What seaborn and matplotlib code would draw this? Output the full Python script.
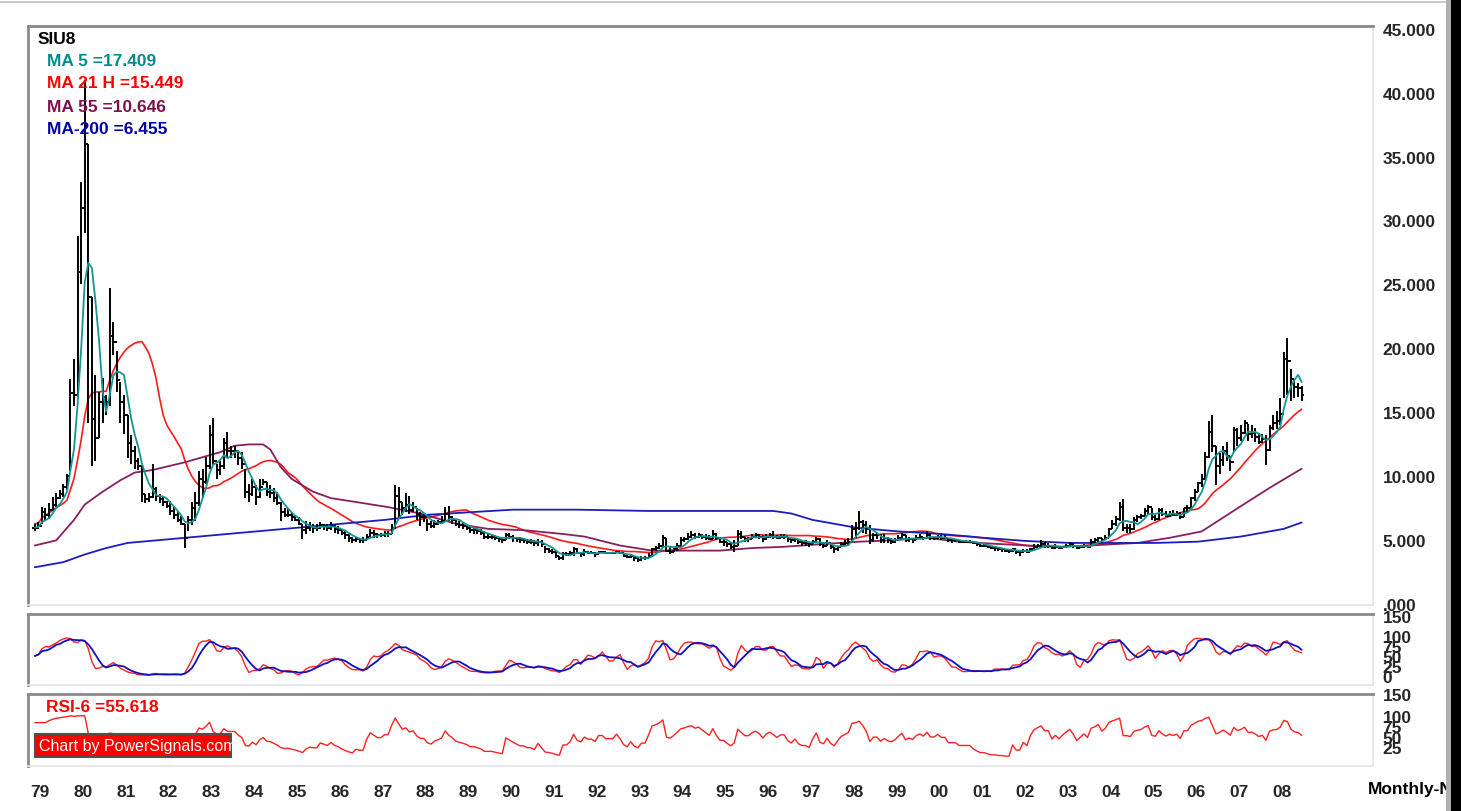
import numpy as np
import pandas as pd
import matplotlib
matplotlib.use("Agg")
import matplotlib.pyplot as plt
from matplotlib.patches import Rectangle
from matplotlib.ticker import FuncFormatter
import seaborn as sns

sns.set_theme(style="white")
plt.rcParams['font.family'] = ['Liberation Sans', 'DejaVu Sans']

# ---------------- data (monthly, Nov 1978 .. Jun 2008) ----------------
first_month = -2   # month index of first bar, 0 = Jan 1979
close = [
    6.0, 6.1,
    7.2, 7.0, 7.4, 7.8, 8.3, 8.6, 9.2, 10.0, 16.5, 16.4, 26.0, 31.0,
    36.0, 24.0, 14.5, 13.0, 15.8, 16.2, 15.8, 21.0, 20.5, 17.5, 15.8, 14.8,
    12.6, 12.0, 11.2, 10.8, 8.6, 8.2, 8.4, 9.0, 8.5, 8.2, 8.0, 7.7,
    7.3, 7.0, 6.6, 6.3, 5.2, 6.6, 7.5, 7.9, 9.8, 9.6, 10.8, 13.2,
    11.2, 10.5, 10.8, 12.6, 12.0, 12.0, 12.0, 11.4, 11.0, 8.8, 8.6, 9.2,
    8.4, 9.2, 9.6, 8.8, 8.7, 8.3, 7.9, 7.2, 7.0, 7.0, 6.8, 6.6,
    6.3, 5.8, 6.0, 6.1, 6.0, 6.0, 6.2, 6.1, 6.0, 6.1, 5.9, 5.8,
    5.6, 5.4, 5.2, 5.0, 5.1, 5.0, 5.0, 5.3, 5.6, 5.5, 5.4, 5.4,
    5.5, 5.5, 6.0, 8.5, 8.0, 7.5, 7.8, 7.4, 7.6, 7.1, 6.8, 6.8,
    6.3, 6.1, 6.3, 6.4, 6.5, 7.1, 6.8, 6.6, 6.3, 6.2, 6.1, 6.0,
    5.8, 5.8, 5.7, 5.6, 5.3, 5.3, 5.3, 5.2, 5.1, 5.0, 5.4, 5.3,
    5.2, 5.1, 5.0, 5.0, 4.9, 4.9, 4.8, 4.9, 4.7, 4.3, 4.2, 4.1,
    3.8, 3.6, 3.9, 3.9, 4.0, 4.3, 4.0, 3.9, 4.1, 4.0, 4.0, 3.9,
    4.1, 4.1, 4.0, 4.0, 4.0, 4.1, 4.0, 3.8, 3.7, 3.8, 3.6, 3.5,
    3.6, 3.6, 3.8, 4.3, 4.4, 4.6, 5.2, 4.2, 4.1, 4.3, 4.6, 5.0,
    5.1, 5.3, 5.4, 5.3, 5.4, 5.3, 5.2, 5.1, 5.5, 5.2, 4.9, 4.9,
    4.7, 4.5, 4.6, 5.5, 5.3, 5.1, 5.1, 5.3, 5.4, 5.3, 5.1, 5.3,
    5.4, 5.3, 5.2, 5.3, 5.3, 5.1, 5.0, 5.1, 4.9, 4.8, 4.8, 4.7,
    4.9, 5.1, 4.7, 4.6, 4.8, 4.5, 4.3, 4.5, 4.7, 4.8, 4.9, 5.9,
    6.0, 6.4, 6.2, 5.9, 5.0, 5.4, 5.4, 5.0, 5.2, 5.0, 4.9, 5.0,
    5.2, 5.4, 5.0, 5.1, 5.0, 5.2, 5.3, 5.2, 5.4, 5.2, 5.2, 5.3,
    5.2, 5.2, 5.0, 5.0, 5.0, 4.9, 4.9, 4.9, 4.9, 4.8, 4.7, 4.6,
    4.6, 4.5, 4.4, 4.4, 4.3, 4.3, 4.2, 4.2, 4.3, 4.1, 4.1, 4.2,
    4.1, 4.3, 4.5, 4.6, 4.7, 4.6, 4.6, 4.4, 4.5, 4.4, 4.5, 4.6,
    4.7, 4.6, 4.4, 4.5, 4.6, 4.5, 4.9, 5.0, 5.2, 5.0, 5.2, 5.9,
    6.3, 6.7, 7.6, 6.0, 6.0, 5.9, 6.6, 6.8, 6.9, 7.3, 7.6, 6.8,
    6.7, 7.4, 7.1, 6.9, 7.1, 7.0, 7.1, 6.8, 7.5, 7.5, 8.3, 8.8,
    9.5, 9.8, 11.5, 13.5, 12.4, 10.8, 11.3, 12.0, 11.6, 11.1, 13.6, 13.0,
    13.4, 14.2, 13.3, 13.4, 13.1, 12.7, 12.9, 12.1, 13.8, 14.2, 14.3, 14.9,
    19.2, 19.0, 17.6, 17.0, 16.9, 16.35,
]
high = [
    6.3, 6.4,
    7.6, 7.5, 7.9, 8.4, 8.7, 8.9, 9.4, 10.2, 17.6, 19.2, 28.8, 33.0,
    41.0, 36.0, 24.0, 17.9, 16.6, 17.7, 16.4, 24.7, 22.1, 19.8, 17.4, 16.4,
    14.8, 13.2, 12.4, 11.4, 10.9, 8.6, 8.7, 11.0, 9.2, 8.6, 8.4, 8.1,
    8.1, 7.7, 7.3, 6.9, 6.3, 6.9, 8.0, 8.8, 10.4, 10.6, 11.5, 14.0,
    14.6, 11.0, 11.2, 13.0, 13.5, 12.4, 12.4, 12.0, 11.9, 10.6, 9.4, 9.8,
    9.3, 9.8, 9.8, 9.6, 9.3, 9.1, 8.8, 8.0, 7.5, 7.5, 7.2, 7.0,
    6.8, 6.3, 6.5, 6.4, 6.3, 6.3, 6.4, 6.3, 6.3, 6.4, 6.2, 6.1,
    5.9, 5.7, 5.5, 5.3, 5.3, 5.2, 5.3, 5.5, 5.9, 5.8, 5.6, 5.6,
    5.7, 5.7, 6.3, 9.3, 9.2, 8.0, 8.7, 8.5, 8.0, 7.5, 7.2, 7.1,
    6.7, 6.5, 6.6, 6.6, 6.9, 7.6, 7.7, 6.9, 6.6, 6.5, 6.4, 6.3,
    6.1, 6.0, 6.0, 5.9, 5.7, 5.5, 5.5, 5.4, 5.3, 5.2, 5.6, 5.6,
    5.4, 5.3, 5.2, 5.2, 5.1, 5.1, 5.0, 5.1, 5.0, 4.6, 4.4, 4.3,
    4.1, 3.8, 4.1, 4.1, 4.2, 4.5, 4.4, 4.0, 4.3, 4.2, 4.2, 4.1,
    4.2, 4.2, 4.1, 4.1, 4.1, 4.2, 4.1, 4.0, 3.9, 3.9, 3.8, 3.7,
    3.8, 3.8, 4.0, 4.4, 4.6, 4.8, 5.4, 5.2, 4.5, 4.4, 4.8, 5.3,
    5.3, 5.6, 5.7, 5.6, 5.6, 5.5, 5.5, 5.4, 5.8, 5.6, 5.3, 5.1,
    4.9, 4.8, 5.0, 5.8, 5.7, 5.3, 5.3, 5.5, 5.6, 5.5, 5.4, 5.5,
    5.6, 5.7, 5.4, 5.5, 5.5, 5.3, 5.2, 5.2, 5.1, 5.0, 5.0, 4.9,
    5.0, 5.3, 5.2, 4.8, 5.0, 4.8, 4.5, 4.6, 4.9, 5.0, 5.2, 6.2,
    6.4, 7.3, 6.6, 6.5, 6.2, 5.6, 5.6, 5.5, 5.5, 5.3, 5.2, 5.2,
    5.4, 5.6, 5.4, 5.3, 5.2, 5.4, 5.5, 5.3, 5.7, 5.6, 5.3, 5.4,
    5.4, 5.4, 5.2, 5.1, 5.1, 5.0, 5.0, 5.0, 5.0, 4.9, 4.8, 4.7,
    4.7, 4.6, 4.5, 4.5, 4.4, 4.4, 4.3, 4.3, 4.4, 4.2, 4.2, 4.3,
    4.3, 4.4, 4.7, 4.7, 5.0, 4.9, 4.8, 4.6, 4.7, 4.5, 4.6, 4.7,
    4.9, 4.8, 4.6, 4.6, 4.7, 4.6, 5.1, 5.2, 5.3, 5.2, 5.4, 6.0,
    6.6, 6.9, 8.0, 8.2, 6.3, 6.3, 6.8, 7.0, 7.1, 7.5, 7.8, 7.5,
    7.0, 7.5, 7.5, 7.3, 7.3, 7.4, 7.3, 7.2, 7.5, 7.8, 8.4, 9.0,
    9.6, 10.2, 11.9, 14.3, 14.8, 12.4, 11.8, 12.4, 12.7, 11.6, 13.9, 13.8,
    14.0, 14.4, 14.1, 14.0, 13.8, 13.4, 13.3, 13.2, 14.0, 14.8, 15.1, 16.1,
    19.7, 20.8, 18.4, 17.5, 17.3, 17.1,
]
low = [
    5.7, 5.9,
    6.3, 6.6, 6.7, 7.4, 7.6, 8.2, 8.4, 8.9, 10.4, 15.5, 16.2, 25.0,
    29.0, 14.2, 10.8, 11.2, 13.0, 14.2, 14.8, 15.5, 19.5, 16.6, 14.2, 13.3,
    11.4, 11.0, 10.6, 10.5, 8.0, 7.9, 8.0, 8.3, 8.1, 7.9, 7.7, 7.5,
    7.0, 6.7, 6.4, 6.2, 4.4, 5.7, 6.2, 6.5, 7.7, 8.3, 9.4, 10.6,
    10.9, 9.8, 10.1, 10.6, 11.4, 11.4, 11.4, 10.9, 10.6, 8.3, 8.0, 8.5,
    7.8, 8.3, 9.3, 8.5, 8.3, 8.0, 7.8, 6.5, 6.8, 6.8, 6.5, 6.5,
    6.2, 5.1, 5.5, 5.7, 5.6, 5.7, 5.9, 5.8, 5.7, 5.8, 5.6, 5.5,
    5.4, 5.1, 4.9, 4.8, 4.9, 4.8, 4.8, 5.0, 5.2, 5.2, 5.2, 5.3,
    5.3, 5.3, 5.5, 5.9, 6.7, 7.0, 7.2, 7.1, 7.2, 6.6, 6.1, 6.4,
    5.7, 6.0, 6.0, 6.2, 6.3, 6.4, 6.5, 6.3, 6.1, 6.0, 5.9, 5.8,
    5.6, 5.5, 5.5, 5.4, 5.1, 5.1, 5.1, 5.0, 4.9, 4.8, 5.0, 5.1,
    4.9, 4.9, 4.8, 4.8, 4.7, 4.7, 4.6, 4.6, 4.5, 4.0, 4.0, 3.9,
    3.6, 3.5, 3.5, 3.8, 3.9, 3.8, 3.9, 3.7, 3.8, 3.9, 3.9, 3.7,
    3.9, 4.0, 3.9, 3.9, 3.9, 4.0, 3.9, 3.7, 3.6, 3.6, 3.4, 3.3,
    3.4, 3.5, 3.6, 3.7, 4.2, 4.3, 4.6, 4.1, 3.9, 4.1, 4.2, 4.6,
    4.9, 5.0, 5.2, 5.1, 5.2, 5.1, 5.0, 5.0, 5.1, 5.0, 4.8, 4.6,
    4.5, 4.3, 4.1, 4.6, 5.1, 4.9, 4.9, 5.1, 5.2, 5.1, 4.9, 5.0,
    5.2, 5.1, 5.1, 5.2, 5.1, 4.9, 4.8, 4.9, 4.7, 4.6, 4.6, 4.5,
    4.7, 4.8, 4.6, 4.4, 4.6, 4.3, 4.0, 4.2, 4.5, 4.6, 4.6, 4.9,
    5.2, 5.8, 5.6, 5.5, 4.7, 4.9, 5.1, 4.8, 4.8, 4.8, 4.7, 4.8,
    5.0, 5.1, 4.9, 4.9, 4.8, 5.0, 5.1, 5.0, 5.2, 5.0, 5.0, 5.1,
    5.0, 5.1, 4.9, 4.8, 4.9, 4.8, 4.8, 4.8, 4.8, 4.7, 4.6, 4.5,
    4.5, 4.4, 4.3, 4.2, 4.2, 4.1, 4.1, 4.0, 4.1, 3.9, 3.8, 4.0,
    4.0, 4.1, 4.3, 4.5, 4.5, 4.4, 4.4, 4.3, 4.3, 4.3, 4.4, 4.4,
    4.6, 4.4, 4.3, 4.4, 4.4, 4.4, 4.6, 4.8, 4.9, 4.8, 5.0, 5.3,
    5.9, 6.1, 6.5, 5.7, 5.6, 5.6, 5.8, 6.4, 6.7, 6.9, 7.1, 6.6,
    6.5, 6.6, 6.9, 6.8, 6.8, 6.9, 6.9, 6.7, 6.8, 7.2, 7.5, 8.1,
    8.8, 9.2, 9.8, 11.4, 11.9, 9.3, 10.2, 10.8, 11.2, 10.4, 11.9, 12.4,
    12.8, 13.3, 12.8, 13.0, 12.7, 12.5, 12.6, 10.9, 12.0, 13.6, 13.7, 14.0,
    16.1, 16.4, 15.9, 16.1, 16.2, 15.9,
]

# long moving averages (month index, value)
ma55_month = [-2, 4, 9, 12, 17, 22, 26, 31, 40, 50, 54, 58, 62, 64, 67, 70, 76, 81, 88, 97,
              106, 116, 125, 135, 146, 152, 162, 171, 180, 190, 199, 208, 218, 229, 238,
              248, 257, 266, 276, 285, 294, 300, 307, 316, 325, 335, 344, 353]
ma55_value = [4.6, 5.0, 6.6, 7.8, 8.8, 9.7, 10.3, 10.5, 11.1, 11.9, 12.4, 12.5, 12.5, 12.1,
              10.7, 9.8, 8.8, 8.3, 8.0, 7.6, 7.1, 6.3, 5.9, 5.8, 5.5, 5.3, 4.6, 4.2, 4.2,
              4.2, 4.4, 4.5, 4.7, 4.9, 5.0, 5.2, 4.9, 4.75, 4.6, 4.5, 4.6, 4.7, 4.8, 5.2,
              5.7, 7.5, 9.1, 10.6]
ma200_month = [-2, 6, 12, 18, 24, 36, 48, 60, 72, 84, 96, 108, 120, 132, 150, 170, 190, 205,
               210, 216, 228, 240, 252, 264, 276, 288, 300, 312, 324, 336, 348, 353]
ma200_value = [2.9, 3.3, 3.9, 4.4, 4.8, 5.1, 5.4, 5.7, 6.0, 6.3, 6.6, 7.0, 7.2, 7.4, 7.4, 7.3,
               7.3, 7.3, 7.1, 6.6, 6.0, 5.7, 5.5, 5.2, 4.95, 4.8, 4.8, 4.8, 4.9, 5.3, 5.9, 6.4]

year_labels = ['79', '80', '81', '82', '83', '84', '85', '86', '87', '88', '89', '90', '91',
               '92', '93', '94', '95', '96', '97', '98', '99', '00', '01', '02', '03', '04',
               '05', '06', '07', '08']
legend_texts = ['SIU8', 'MA 5 =17.409', 'MA 21 H =15.449', 'MA 55 =10.646', 'MA-200 =6.455']
rsi_text = 'RSI-6 =55.618'

# ---------------- derived indicator series ----------------
m = np.arange(first_month, first_month + len(close))
c = pd.Series(close, dtype=float)
h = pd.Series(high, dtype=float)
l = pd.Series(low, dtype=float)
ma5 = c.rolling(5, min_periods=1).mean()
ma21h = h.rolling(21, min_periods=1).mean()

hh = h.rolling(12, min_periods=1).max()
ll = l.rolling(12, min_periods=1).min()
raw_k = 100 * (c - ll) / (hh - ll)
stoch_k = raw_k.rolling(2, min_periods=1).mean()
stoch_d = raw_k.rolling(5, min_periods=1).mean()

delta = c.diff().fillna(0)
up = delta.clip(lower=0).ewm(alpha=1 / 6, adjust=False).mean()
dn = (-delta.clip(upper=0)).ewm(alpha=1 / 6, adjust=False).mean()
rsi = (100 - 100 / (1 + up / dn.replace(0, np.nan))).bfill()

# ---------------- figure ----------------
W, H = 1461, 812
fig = plt.figure(figsize=(W / 100, H / 100), dpi=100)
fig.patch.set_facecolor('white')


def box(x0, y0, x1, y1):
    return [x0 / W, 1 - y1 / H, (x1 - x0) / W, (y1 - y0) / H]


ax = fig.add_axes(box(28, 27, 1373, 606))
ax2 = fig.add_axes(box(28, 615, 1373, 686), sharex=ax)
ax3 = fig.add_axes(box(28, 695, 1373, 767), sharex=ax)

C_MA5 = '#159494'
C_RED = '#ff1a1a'
C_MA55 = '#862060'
C_BLUE = '#1c1cc0'

# price bars
opens = [close[0]] + close[:-1]
ax.vlines(m, low, high, color='black', lw=1.4, zorder=3)
ax.hlines(close, m, m + 0.75, color='black', lw=1.4, zorder=3)
ax.hlines(opens, m - 0.75, m, color='black', lw=1.4, zorder=3)

sns.lineplot(x=m, y=ma5.values, ax=ax, color=C_MA5, lw=1.3, estimator=None, zorder=4)
sns.lineplot(x=m, y=ma21h.values, ax=ax, color=C_RED, lw=1.2, estimator=None, zorder=2)
sns.lineplot(x=ma55_month, y=ma55_value, ax=ax, color=C_MA55, lw=1.3, estimator=None, zorder=2)
sns.lineplot(x=ma200_month, y=ma200_value, ax=ax, color=C_BLUE, lw=1.3, estimator=None, zorder=2)

sns.lineplot(x=m, y=stoch_k.values, ax=ax2, color='#ff2020', lw=1.0, estimator=None)
sns.lineplot(x=m, y=stoch_d.values, ax=ax2, color='#1010c0', lw=1.3, estimator=None)
sns.lineplot(x=m, y=rsi.values, ax=ax3, color='#ff2020', lw=1.0, estimator=None)

xlim = (-3.9, 373.0)
for a in (ax, ax2, ax3):
    a.set_xlim(*xlim)
    a.set_facecolor('white')
    a.set_xlabel('')
    a.set_ylabel('')
    a.yaxis.tick_right()
    a.tick_params(axis='y', length=0, pad=7, labelsize=12.5)
    for s in ('left', 'top'):
        a.spines[s].set_color('#8a8a8a')
        a.spines[s].set_linewidth(2.0)
    for s in ('right', 'bottom'):
        a.spines[s].set_color('#e4e4e4')
        a.spines[s].set_linewidth(1.2)
    a.grid(False)

ax.set_ylim(-0.05, 45.2)
ax.set_yticks(np.arange(0, 46, 5))
ax.yaxis.set_major_formatter(FuncFormatter(lambda v, p: '.000' if v == 0 else '%.3f' % v))
ax.tick_params(axis='x', which='both', bottom=False, labelbottom=False)
ax2.tick_params(axis='x', which='both', bottom=False, labelbottom=False)

ax2.set_ylim(-22.5, 155)
ax2.set_yticks([0, 25, 50, 75, 100, 150])
ax2.set_yticklabels(['0', '25', '50', '75', '100', '150'])
ax3.set_ylim(-19.5, 151)
ax3.set_yticks([25, 50, 75, 100, 150])
ax3.set_yticklabels(['25', '50', '75', '100', '150'])
for a in (ax, ax2, ax3):
    for lab in a.get_yticklabels():
        lab.set_fontweight('bold')
        lab.set_fontsize(12.5)

ax3.set_xticks([12 * i - 0.5 for i in range(len(year_labels))])
ax3.set_xticklabels(year_labels, fontsize=12.5, fontweight='bold')
ax3.tick_params(axis='x', length=0, pad=13)


def ftxt(x, y, s, **kw):
    fig.text(x / W, 1 - y / H, s, va='center', ha='left', **kw)


colors = ['black', '#008c8c', '#ff0000', '#80104a', '#0000a8']
xs = [38, 47, 47, 47, 47]
ys = [40, 61, 84, 107, 129]
for s, col, x0, y0 in zip(legend_texts, colors, xs, ys):
    ftxt(x0, y0, s, color=col, fontsize=12.5, fontweight='bold')

ftxt(46, 708, rsi_text, color='#ff0000', fontsize=12.5, fontweight='bold')

# watermark
fig.patches.append(Rectangle((35 / W, 1 - 758 / H), 196 / W, 23 / H, transform=fig.transFigure,
                             facecolor='#ff0000', edgecolor='#505050', lw=1.5, zorder=5))
fig.text(39 / W, 1 - 747 / H, 'Chart by PowerSignals.com', color='white', fontsize=11.5,
         va='center', ha='left', zorder=6)

ftxt(1368, 790, 'Monthly-N', color='black', fontsize=12.5, fontweight='bold')

# outer frame
fig.patches.append(Rectangle((0, 1 - 4 / H), 1446 / W, 2 / H, transform=fig.transFigure,
                             facecolor='#c8c8c8', edgecolor='none', zorder=1))
fig.patches.append(Rectangle((1446 / W, 0), 5 / W, 1, transform=fig.transFigure,
                             facecolor='#b0b0b0', edgecolor='none', zorder=7))
fig.patches.append(Rectangle((1451 / W, 0), 10 / W, 1, transform=fig.transFigure,
                             facecolor='black', edgecolor='none', zorder=8))

fig.savefig('out.png', dpi=100, facecolor='white')
